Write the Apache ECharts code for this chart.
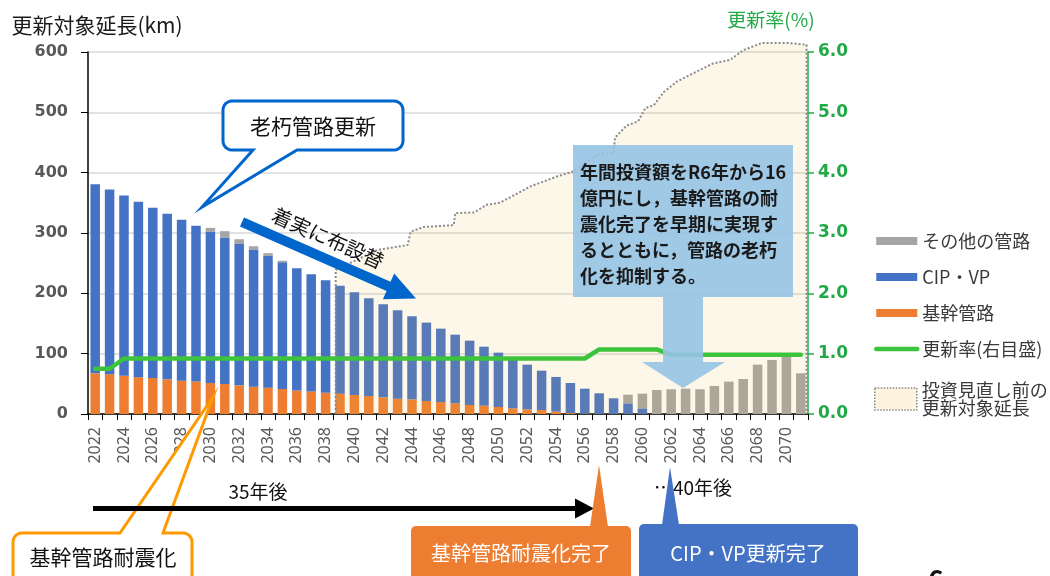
<!DOCTYPE html>
<html>
<head>
<meta charset="utf-8">
<title>更新対象延長</title>
<script src="https://cdn.jsdelivr.net/npm/echarts@6/dist/echarts.min.js"></script>
<style>
html, body { margin: 0; padding: 0; background: #fff; }
#main { width: 1050px; height: 576px; }
</style>
</head>
<body>
<div id="main"></div>
<script type="text/javascript">
// 年度
var years = ['2022','2023','2024','2025','2026','2027','2028','2029','2030','2031',
             '2032','2033','2034','2035','2036','2037','2038','2039','2040','2041',
             '2042','2043','2044','2045','2046','2047','2048','2049','2050','2051',
             '2052','2053','2054','2055','2056','2057','2058','2059','2060','2061',
             '2062','2063','2064','2065','2066','2067','2068','2069','2070','2071'];

// 基幹管路 (km)
var kikanData = [67.5,66,63.5,61,59.7,57.5,55.3,54,51.4,49.7,
                 47.5,45.3,43.7,41.5,39,37.5,35.3,33.7,31.5,29.9,
                 27.6,25.4,24.3,21.5,19.9,17.7,14.9,13.8,11.6,9.4,
                 7.7,6.6,3.9,1.5,0.5,0,0,0,0,0,
                 0,0,0,0,0,0,0,0,0,0];
// CIP・VP (km)
var cipData = [313.5,306,298.5,291,282.3,274.5,266.7,258,251,242.8,
               234.5,227.2,218.3,210,202.6,194.1,186.4,178.8,170.5,162.1,
               154.4,146.6,137.7,130,121.6,113.8,106.7,97.8,90.1,82.3,
               74.1,65.2,57.5,49.9,41.5,34.3,26,17.7,9.4,0,
               0,0,0,0,0,0,0,0,0,0];
// その他の管路 (km)
var otherData = [0,0,0,0,0,0,0,0,6.1,10.5,
                 7.7,5.5,4.5,2.5,0,0,0,0,0,0,
                 0,0,0,0,0,0,0,0,0,0,
                 0,0,0,0,0,0,0,14.3,24.3,39.8,
                 41,42,41,46.4,53.6,58,81.8,89.6,96,67.5];
// 更新率 (%)
var rateData = [0.75,0.75,0.92,0.92,0.92,0.92,0.92,0.92,0.92,0.92,
                0.92,0.92,0.92,0.92,0.92,0.92,0.92,0.92,0.92,0.92,
                0.92,0.92,0.92,0.92,0.92,0.92,0.92,0.92,0.92,0.92,
                0.92,0.92,0.92,0.92,0.92,1.07,1.07,1.07,1.07,1.07,
                0.98,0.98,0.98,0.98,0.98,0.98,0.98,0.98,0.98,0.98];
// 投資見直し前の更新対象延長 (年, km)
var planYears = [2038.7,2038.7,2041.6,2043.7,2043.9,2044.8,2046.9,2047.0,2048.3,2049.2,
                 2050.1,2052.2,2054.1,2055.2,2056.6,2057.1,2058.0,2058.1,2058.9,2059.7,
                 2060.2,2060.8,2061.5,2062.4,2063.3,2064.9,2066.1,2067.0,2068.3,2070.1,
                 2071.4,2071.4];
var planValues = [0,239,272,280,302,310,313,333,334,347,
                  350,377,394,402,425,431,433,458,478,485,
                  507,512,534,551,562,581,587,603,615,615,
                  612,0];

var leftTicks = [0, 600, 100];
var rightTicks = [0, 6, 1];

var JP = '"Noto Sans CJK JP", "Noto Sans", sans-serif';
var GREEN = '#3CC43C';

var planData = [];
for (var i = 0; i < planYears.length; i++) {
    planData.push([planYears[i], planValues[i]]);
}

// 角丸の点列
function corner(pts, cx, cy, r, a0, a1) {
    for (var k = 0; k <= 6; k++) {
        var a = (a0 + (a1 - a0) * k / 6) * Math.PI / 180;
        pts.push([cx + r * Math.cos(a), cy + r * Math.sin(a)]);
    }
}

// 吹き出し(角丸＋しっぽ)
function calloutPoints(x0, y0, x1, y1, r, tail) {
    var pts = [];
    corner(pts, x0 + r, y0 + r, r, 180, 270);
    if (tail.side === 'top') {
        pts.push([tail.a, y0], [tail.tx, tail.ty], [tail.b, y0]);
    }
    corner(pts, x1 - r, y0 + r, r, 270, 360);
    corner(pts, x1 - r, y1 - r, r, 0, 90);
    if (tail.side === 'bottom') {
        pts.push([tail.b, y1], [tail.tx, tail.ty], [tail.a, y1]);
    }
    corner(pts, x0 + r, y1 - r, r, 90, 180);
    return pts;
}

// 太い矢印
function arrowPoints(x1, y1, x2, y2, w, hw, hl) {
    var dx = x2 - x1, dy = y2 - y1, len = Math.sqrt(dx * dx + dy * dy);
    var ux = dx / len, uy = dy / len, nx = -uy, ny = ux;
    var bx = x2 - ux * hl, by = y2 - uy * hl;
    return [
        [x1 + nx * w, y1 + ny * w], [bx + nx * w, by + ny * w], [bx + nx * hw, by + ny * hw],
        [x2, y2],
        [bx - nx * hw, by - ny * hw], [bx - nx * w, by - ny * w], [x1 - nx * w, y1 - ny * w]
    ];
}

var myChart = echarts.init(document.getElementById('main'), null, { renderer: 'canvas' });

var option = {
    backgroundColor: '#fff',
    animation: false,
    grid: { left: 88, right: 242, top: 52, bottom: 162, containLabel: false, outerBoundsMode: 'none' },
    legend: [
        {
            orient: 'vertical', left: 869, top: 227,
            itemWidth: 41, itemHeight: 8, itemGap: 18,
            selectedMode: false,
            textStyle: { fontSize: 18, color: '#3a3a3a', fontFamily: JP },
            data: [
                { name: 'その他の管路', icon: 'rect' },
                { name: 'CIP・VP', icon: 'rect' },
                { name: '基幹管路', icon: 'rect' },
                { name: '更新率(右目盛)', itemStyle: { opacity: 0 },
                  lineStyle: { color: GREEN, width: 4.5, cap: 'round' } }
            ]
        },
        {
            orient: 'vertical', left: 869, top: 368,
            itemWidth: 42, itemHeight: 22,
            selectedMode: false,
            textStyle: { fontSize: 18, color: '#3a3a3a', fontFamily: JP, lineHeight: 18, padding: [16, 0, 0, 0] },
            formatter: function (name) { return name.slice(0, 7) + '\n' + name.slice(7); },
            data: [
                { name: '投資見直し前の更新対象延長', icon: 'rect',
                  itemStyle: { color: '#fdf3de', borderColor: '#8a8a8a', borderWidth: 1.5, borderType: 'dotted' } }
            ]
        }
    ],
    xAxis: [
        {
            type: 'category',
            data: years,
            boundaryGap: true,
            axisLine: { lineStyle: { color: '#000', width: 1.5 } },
            axisTick: { show: true, interval: 0, length: 6, lineStyle: { color: '#000' } },
            axisLabel: { interval: 1, rotate: 90, margin: 13, fontSize: 16, color: '#595959', fontFamily: '"Noto Sans", sans-serif' },
            splitLine: { show: false }
        },
        {
            type: 'value', min: 2021.5, max: 2071.5, show: false
        }
    ],
    yAxis: [
        {
            type: 'value',
            min: leftTicks[0], max: leftTicks[1], interval: leftTicks[2],
            name: '更新対象延長(km)',
            nameLocation: 'end', nameGap: 16,
            nameTextStyle: { fontSize: 21, color: '#1a1a1a', fontFamily: JP, padding: [0, 0, 0, 18] },
            axisLine: { show: true, lineStyle: { color: '#000', width: 1.5 } },
            axisTick: { show: true, length: 7, lineStyle: { color: '#000' } },
            axisLabel: { margin: 20, fontSize: 16, fontWeight: 'bold', color: '#595959', fontFamily: '"DejaVu Sans", sans-serif' },
            splitLine: { show: true, lineStyle: { color: '#d9d9d9', width: 1.5 } }
        },
        {
            type: 'value',
            min: rightTicks[0], max: rightTicks[1], interval: rightTicks[2],
            name: '更新率(%)',
            nameLocation: 'end', nameGap: 23,
            nameTextStyle: { fontSize: 19, color: '#21A945', fontFamily: JP, padding: [0, 74, 0, 0] },
            axisLine: { show: true, lineStyle: { color: '#21A945', width: 1.5 } },
            axisTick: { show: true, length: 6, lineStyle: { color: '#21A945', width: 1.5 } },
            axisLabel: {
                margin: 10, fontSize: 17, fontWeight: 'bold', color: '#21A945', fontFamily: '"DejaVu Sans", sans-serif',
                formatter: function (v) { return v.toFixed(1); }
            },
            splitLine: { show: false }
        }
    ],
    series: [
        {
            name: '基幹管路', type: 'bar', stack: 'total',
            barCategoryGap: '34%',
            itemStyle: { color: '#ED7D31' },
            data: kikanData
        },
        {
            name: 'CIP・VP', type: 'bar', stack: 'total',
            itemStyle: { color: '#4472C4' },
            data: cipData
        },
        {
            name: 'その他の管路', type: 'bar', stack: 'total',
            itemStyle: { color: '#A5A5A5' },
            data: otherData
        },
        {
            name: '投資見直し前の更新対象延長', type: 'line',
            xAxisIndex: 1, yAxisIndex: 0,
            symbol: 'none', clip: false, z: 3,
            lineStyle: { color: '#8a8a8a', width: 2, type: 'dotted' },
            itemStyle: { color: '#fdf3de' },
            areaStyle: { color: 'rgba(240,185,80,0.17)', origin: 'start' },
            data: planData
        },
        {
            name: '更新率(右目盛)', type: 'line',
            yAxisIndex: 1,
            symbol: 'none', z: 4,
            lineStyle: { color: GREEN, width: 4.5, cap: 'round', join: 'round' },
            itemStyle: { color: GREEN },
            data: rateData
        }
    ],
    graphic: [
        // 老朽管路更新
        {
            type: 'polygon', z: 100,
            shape: { points: calloutPoints(223, 101, 403, 150, 9, { side: 'bottom', a: 253, b: 297, tx: 202, ty: 207 }) },
            style: { fill: '#fff', stroke: '#0066CC', lineWidth: 3, lineJoin: 'miter' }
        },
        {
            type: 'text', z: 101, x: 313, y: 126,
            style: { text: '老朽管路更新', fontSize: 21, fill: '#111', fontFamily: JP, align: 'center', verticalAlign: 'middle' }
        },
        // 着実に布設替
        {
            type: 'polygon', z: 100,
            shape: { points: arrowPoints(242, 222, 416, 298.5, 5, 14, 30) },
            style: { fill: '#0066CC' }
        },
        {
            type: 'text', z: 101, x: 328, y: 238, rotation: -24 * Math.PI / 180,
            style: { text: '着実に布設替', fontSize: 20, fill: '#111', fontFamily: JP,
                     align: 'center', verticalAlign: 'middle' }
        },
        // 投資額の説明
        {
            type: 'polygon', z: 100,
            shape: { points: [[573, 145], [793, 145], [793, 297], [703, 297], [703, 362], [725, 362], [683, 388],
                              [642, 362], [663, 362], [663, 297], [573, 297]] },
            style: { fill: 'rgba(150,195,230,0.9)' }
        },
        {
            type: 'text', z: 101, x: 580, y: 159,
            style: { text: '年間投資額をR6年から16\n億円にし，基幹管路の耐\n震化完了を早期に実現す\nるとともに，管路の老朽\n化を抑制する。',
                     fontSize: 18, lineHeight: 26, fontWeight: 'bold', fill: '#1a1a1a', fontFamily: JP }
        },
        // 基幹管路耐震化
        {
            type: 'polygon', z: 100,
            shape: { points: calloutPoints(13, 533, 192, 610, 9, { side: 'top', a: 120, b: 163, tx: 213, ty: 397 }) },
            style: { fill: '#fff', stroke: '#FF9900', lineWidth: 3 }
        },
        {
            type: 'text', z: 101, x: 103, y: 557,
            style: { text: '基幹管路耐震化', fontSize: 21, fill: '#111', fontFamily: JP, align: 'center', verticalAlign: 'middle' }
        },
        // 35年後
        {
            type: 'rect', z: 102, shape: { x: 93, y: 506, width: 484, height: 5 }, style: { fill: '#000' }
        },
        {
            type: 'polygon', z: 102, shape: { points: [[575, 498.5], [594, 508.5], [575, 518.5]] }, style: { fill: '#000' }
        },
        {
            type: 'text', z: 101, x: 258, y: 492,
            style: { text: '35年後', fontSize: 19, fill: '#111', fontFamily: JP, align: 'center', verticalAlign: 'middle' }
        },
        {
            type: 'text', z: 100, x: 654, y: 488,
            style: { text: '…40年後', fontSize: 19, fill: '#111', fontFamily: JP, align: 'left', verticalAlign: 'middle' }
        },
        // 基幹管路耐震化完了
        {
            type: 'rect', z: 103, shape: { x: 411, y: 526, width: 220, height: 70, r: 5 }, style: { fill: '#ED7D31' }
        },
        {
            type: 'polygon', z: 103, shape: { points: [[590, 527], [608, 527], [599, 465]] }, style: { fill: '#ED7D31' }
        },
        {
            type: 'text', z: 104, x: 521, y: 553,
            style: { text: '基幹管路耐震化完了', fontSize: 20, fill: '#fff', fontFamily: JP, align: 'center', verticalAlign: 'middle' }
        },
        // CIP・VP更新完了
        {
            type: 'rect', z: 103, shape: { x: 639, y: 524, width: 219, height: 70, r: 5 }, style: { fill: '#4472C4' }
        },
        {
            type: 'polygon', z: 103, shape: { points: [[662, 525], [679, 525], [670, 467]] }, style: { fill: '#4472C4' }
        },
        {
            type: 'text', z: 104, x: 748, y: 553,
            style: { text: 'CIP・VP更新完了', fontSize: 20, fill: '#fff', fontFamily: JP, align: 'center', verticalAlign: 'middle' }
        },
        // ページ番号
        {
            type: 'text', z: 100, x: 936, y: 566,
            style: { text: '6', fontSize: 26, fontWeight: 'bold', fill: '#111', fontFamily: JP, align: 'center', verticalAlign: 'top' }
        }
    ]
};

myChart.setOption(option);
</script>
</body>
</html>
